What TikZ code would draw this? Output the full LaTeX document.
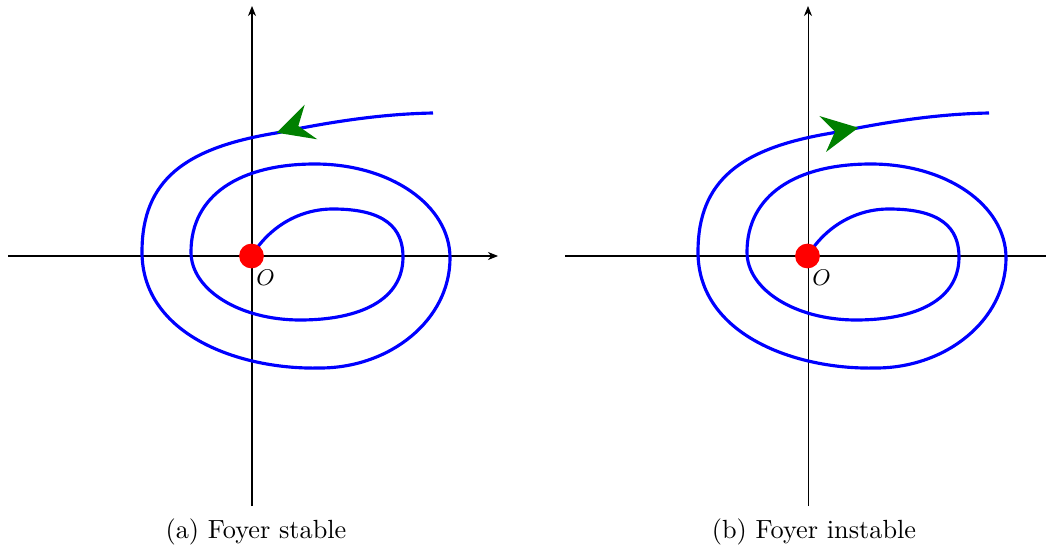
\documentclass[tikz,border=0pt]{standalone}
\usetikzlibrary{arrows.meta}
\definecolor{arrgreen}{rgb}{0,0.5,0}
\tikzset{
  axis/.style={black, line width=0.4pt},
  axisarrow/.style={axis, -{Stealth[length=4pt,width=3.2pt]}},
  traj/.style={blue, line width=1.25pt, line join=round},
  fixpt/.style={circle, fill=red, inner sep=0pt, minimum size=9.8pt},
  olabel/.style={font=\small},
  capt/.style={anchor=base, font=\fontsize{10.4}{12}\selectfont},
  tipfill/.style={fill=arrgreen}
}
\def\SpiralPath{(251.5,256) .. controls (270,226) and (300,209) .. (333,209)
  .. controls (385,209) and (403,228) .. (403,257)
  .. controls (403,300) and (360,320) .. (300,320)
  .. controls (240,320) and (191,290) .. (191,252)
  .. controls (191,195) and (240,164) .. (315,164)
  .. controls (390,164) and (450,205) .. (450,258)
  .. controls (450,320) and (390,368) .. (320,368)
  .. controls (240,370) and (142,335) .. (142,252)
  .. controls (142,180) and (185,148) .. (276,133)
  .. controls (330,122) and (380,114) .. (433,113)}
\begin{document}
\begin{tikzpicture}[x=0.013911cm,y=-0.013911cm]
\useasboundingbox (0,0) rectangle (1046,550);
% ---- left: stable focus ----
\coordinate (Lxl) at (8,256);
\coordinate (Lxr) at (498,256);
\coordinate (Lyb) at (252,506);
\coordinate (Lyt) at (252,6);
\draw[axisarrow] (Lxl) -- (Lxr);
\draw[axisarrow] (Lyb) -- (Lyt);
\draw[traj] \SpiralPath;
\node[fixpt] (OL) at (251.5,256) {};
\node[olabel] (OLlab) at (265.5,278) {$O$};
\fill[tipfill] (276.7,132.7) -- (304.7,104.7) -- (298.3,126) -- (317.3,139.3) -- cycle;
\node[capt] (capa) at (256,538) {(a) Foyer stable};
% ---- right: unstable focus ----
\coordinate (Rxl) at (565,256);
\coordinate (Rxr) at (1046,256);
\coordinate (Ryb) at (808,506);
\coordinate (Ryt) at (808,6);
\draw[axis] (Rxl) -- (Rxr);
\draw[axisarrow] (Ryb) -- (Ryt);
\begin{scope}[shift={(556,0)}]
\draw[traj] \SpiralPath;
\end{scope}
\node[fixpt] (OR) at (807.5,256) {};
\node[olabel] (ORlab) at (821.5,278) {$O$};
\fill[tipfill] (858.3,127.7) -- (819.3,116) -- (835,131.7) -- (826,152) -- cycle;
\node[capt] (capb) at (814,538) {(b) Foyer instable};
\end{tikzpicture}
\end{document}
